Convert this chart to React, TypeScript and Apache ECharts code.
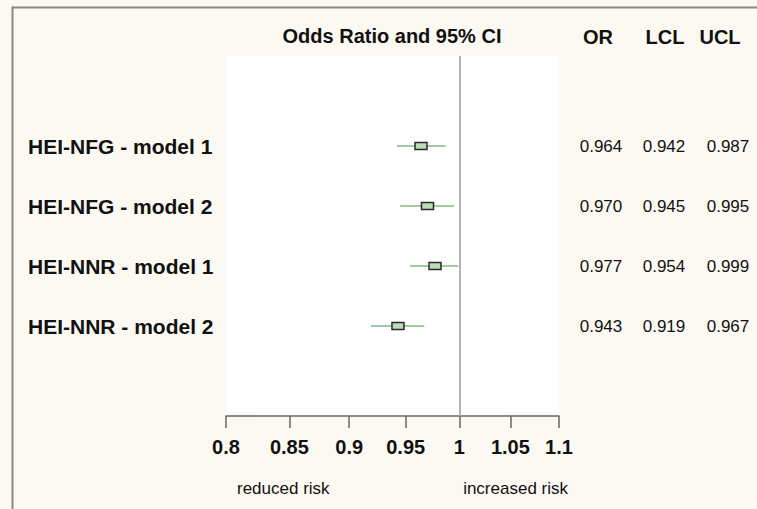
import React, { useEffect, useRef } from 'react';
import * as echarts from 'echarts';

const categories = ['HEI-NFG - model 1', 'HEI-NFG - model 2', 'HEI-NNR - model 1', 'HEI-NNR - model 2'];
const oddsRatio = [0.964, 0.97, 0.977, 0.943];
const lowerCL = [0.942, 0.945, 0.954, 0.919];
const upperCL = [0.987, 0.995, 0.999, 0.967];
const xTicks = [0.8, 0.85, 0.9, 0.95, 1, 1.05, 1.1];
const xMin = 0.8;
const xMax = 1.1;
const referenceValue = 1;
const tableHeaders = ['OR', 'LCL', 'UCL'];
const tableColumns = [oddsRatio, lowerCL, upperCL];
const chartTitle = 'Odds Ratio and 95% CI';
const leftNote = 'reduced risk';
const rightNote = 'increased risk';

const FONT = '"Liberation Sans", Arial, Helvetica, sans-serif';
const PAD_TOP = ' ';
const PAD_BOTTOM = '  ';

export default function App() {
  const ref = useRef<HTMLDivElement>(null);

  useEffect(() => {
    if (!ref.current) return;
    const chart = echarts.init(ref.current, undefined, { renderer: 'svg' });
    const allCats = [PAD_TOP, ...categories, PAD_BOTTOM];

    const tableMargins = [42, 105, 169];
    const headerX = [598, 665, 720];

    const rightAxes = tableColumns.map((col, ci) => ({
      type: 'category',
      data: allCats,
      inverse: true,
      position: 'right',
      gridIndex: 0,
      axisLine: { show: false },
      axisTick: { show: false },
      splitLine: { show: false },
      axisLabel: {
        interval: 0,
        align: 'center',
        margin: tableMargins[ci],
        fontFamily: FONT,
        fontSize: 17,
        color: '#111',
        formatter: (v: string) => {
          const i = categories.indexOf(v);
          return i >= 0 ? col[i].toFixed(3) : '';
        },
      },
    }));

    const option: any = {
      animation: false,
      backgroundColor: '#fcf9f2',
      grid: {
        left: 226,
        right: 198,
        top: 56,
        bottom: 93,
        show: true,
        backgroundColor: '#ffffff',
        borderWidth: 0,
      },
      xAxis: {
        type: 'log',
        logBase: 10,
        min: xMin,
        max: xMax,
        axisLine: { show: true, lineStyle: { color: '#666666', width: 1.5 } },
        axisTick: {
          show: true,
          customValues: xTicks,
          length: 12,
          lineStyle: { color: '#666666', width: 1.5 },
        },
        minorTick: { show: false },
        splitLine: { show: false },
        axisLabel: {
          customValues: xTicks,
          margin: 21,
          fontFamily: FONT,
          fontSize: 20,
          fontWeight: 'bold',
          color: '#111',
          formatter: (v: number) => String(Number(v.toFixed(2))),
        },
      },
      yAxis: [
        {
          type: 'category',
          data: allCats,
          inverse: true,
          position: 'left',
          axisLine: { show: false },
          axisTick: { show: false },
          splitLine: { show: false },
          axisLabel: {
            interval: 0,
            align: 'left',
            margin: 198,
            fontFamily: FONT,
            fontSize: 21,
            fontWeight: 'bold',
            color: '#111',
          },
        },
        ...rightAxes,
      ],
      series: [
        {
          type: 'scatter',
          data: [],
          silent: true,
          markLine: {
            silent: true,
            symbol: ['none', 'none'],
            label: { show: false },
            lineStyle: { color: '#b4b4b4', width: 2, type: 'solid' },
            data: [{ xAxis: referenceValue }],
          },
        },
        {
          type: 'custom',
          z: 5,
          data: categories.map((c, i) => [oddsRatio[i], lowerCL[i], upperCL[i], c]),
          encode: { x: [0, 1, 2], y: 3 },
          renderItem: (params: any, api: any) => {
            const yv = api.value(3);
            const pOR = api.coord([api.value(0), yv]);
            const pL = api.coord([api.value(1), yv]);
            const pU = api.coord([api.value(2), yv]);
            return {
              type: 'group',
              children: [
                {
                  type: 'line',
                  shape: { x1: pL[0], y1: pL[1], x2: pU[0], y2: pU[1] },
                  style: { stroke: '#82b882', lineWidth: 1.5 },
                },
                {
                  type: 'rect',
                  shape: { x: pOR[0] - 6, y: pOR[1] - 3.5, width: 12, height: 7 },
                  style: { fill: '#b9dcb9', stroke: '#2a2a2a', lineWidth: 1.5 },
                },
              ],
            };
          },
        },
      ],
      graphic: [
        {
          type: 'line',
          shape: { x1: 12, y1: 7.5, x2: 757, y2: 7.5 },
          style: { stroke: '#8b877f', lineWidth: 2 },
        },
        {
          type: 'line',
          shape: { x1: 12.5, y1: 6.5, x2: 12.5, y2: 509 },
          style: { stroke: '#8b877f', lineWidth: 2 },
        },
        {
          type: 'text',
          x: 392,
          y: 36,
          style: {
            text: chartTitle,
            fontFamily: FONT,
            fontSize: 20,
            fontWeight: 'bold',
            fill: '#111',
            align: 'center',
            verticalAlign: 'middle',
          },
        },
        ...tableHeaders.map((h, i) => ({
          type: 'text',
          x: headerX[i],
          y: 37,
          style: {
            text: h,
            fontFamily: FONT,
            fontSize: 20,
            fontWeight: 'bold',
            fill: '#111',
            align: 'center',
            verticalAlign: 'middle',
          },
        })),
        {
          type: 'text',
          x: 237,
          y: 488,
          style: {
            text: leftNote,
            fontFamily: FONT,
            fontSize: 17,
            fill: '#111',
            align: 'left',
            verticalAlign: 'middle',
          },
        },
        {
          type: 'text',
          x: 568,
          y: 488,
          style: {
            text: rightNote,
            fontFamily: FONT,
            fontSize: 17,
            fill: '#111',
            align: 'right',
            verticalAlign: 'middle',
          },
        },
      ],
    };

    chart.setOption(option);
    return () => chart.dispose();
  }, []);

  return (
    <div
      ref={ref}
      style={{ position: 'fixed', left: 0, top: 0, width: 757, height: 509 }}
    />
  );
}
